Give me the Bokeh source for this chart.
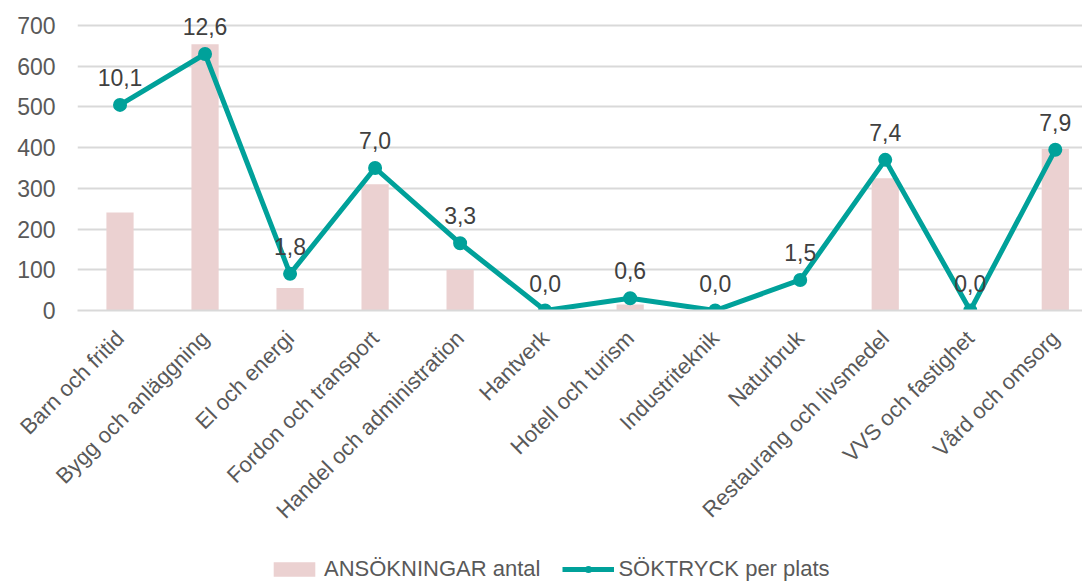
import math
from bokeh.plotting import figure
from bokeh.layouts import column
from bokeh.models import (ColumnDataSource, Range1d, FixedTicker, LabelSet,
                          Legend, LegendItem)
from bokeh.core.properties import value
from bokeh.embed import file_html
from bokeh.resources import INLINE

categories = ["Barn och fritid", "Bygg och anläggning", "El och energi", "Fordon och transport",
              "Handel och administration", "Hantverk", "Hotell och turism", "Industriteknik",
              "Naturbruk", "Restaurang och livsmedel", "VVS och fastighet", "Vård och omsorg"]
ansokningar = [241, 654, 55, 310, 100, 0, 15, 0, 0, 325, 0, 397]
soktryck = [10.1, 12.6, 1.8, 7.0, 3.3, 0.0, 0.6, 0.0, 1.5, 7.4, 0.0, 7.9]
y_ticks = [0, 100, 200, 300, 400, 500, 600, 700]
series_names = ["ANSÖKNINGAR antal", "SÖKTRYCK per plats"]

FONT = "Liberation Sans"
BAR_COLOR = "#EBD1D1"
LINE_COLOR = "#00A19A"
TXT = "#595959"

xs = list(range(len(categories)))
src = ColumnDataSource(dict(
    x=xs, bars=ansokningar, line=soktryck,
    lbl=[f"{v:.1f}".replace(".", ",") for v in soktryck],
))

MAIN_H = 542
LEG_H = 40
Y_TOP = 761.4          # headroom above 700 so the top data label is not clipped
p = figure(width=1082, height=MAIN_H, output_backend="svg", toolbar_location=None,
           x_range=Range1d(-0.5, 11.32), y_range=Range1d(0, Y_TOP),
           min_border_left=77, min_border_right=0, min_border_top=0,
           min_border_bottom=MAIN_H - 310)
p.outline_line_color = None
p.extra_y_ranges = {"sec": Range1d(0, Y_TOP / 50.0)}

vb = p.vbar(x="x", top="bars", width=0.32, source=src, fill_color=BAR_COLOR, line_color=None)
ln = p.line(x="x", y="line", source=src, y_range_name="sec", line_color=LINE_COLOR, line_width=5)
sc = p.scatter(x="x", y="line", source=src, y_range_name="sec", size=14,
               fill_color=LINE_COLOR, line_color=None)

labels = LabelSet(x="x", y="line", text="lbl", source=src, y_range_name="sec",
                  y_offset=19, text_align="center", text_baseline="bottom",
                  text_font=value(FONT), text_font_size=value("23px"), text_color="#404040")
p.add_layout(labels)

# axes
p.yaxis.ticker = FixedTicker(ticks=y_ticks)
p.yaxis.axis_line_color = None
p.yaxis.major_tick_line_color = None
p.yaxis.major_tick_out = 0
p.yaxis.major_tick_in = 0
p.yaxis.minor_tick_line_color = None
p.yaxis.major_label_standoff = 22
p.yaxis.major_label_text_font = FONT
p.yaxis.major_label_text_font_size = "23px"
p.yaxis.major_label_text_color = TXT

p.xaxis.ticker = FixedTicker(ticks=xs)
p.xaxis.major_label_overrides = {i: c for i, c in enumerate(categories)}
p.xaxis.major_label_orientation = math.pi / 4
p.xaxis.axis_line_color = "#D9D9D9"
p.xaxis.axis_line_width = 2
p.xaxis.major_tick_line_color = None
p.xaxis.major_tick_out = 0
p.xaxis.major_tick_in = 0
p.xaxis.minor_tick_line_color = None
p.xaxis.major_label_standoff = 24
p.xaxis.major_label_text_font = FONT
p.xaxis.major_label_text_font_size = "22px"
p.xaxis.major_label_text_color = TXT

p.xgrid.grid_line_color = None
p.ygrid.ticker = FixedTicker(ticks=y_ticks)
p.ygrid.grid_line_color = "#D9D9D9"
p.ygrid.grid_line_width = 2

# legend strip under the chart (its renderers hold a single point outside the visible range)
lg = figure(width=1082, height=LEG_H, output_backend="svg", toolbar_location=None,
            x_range=Range1d(0, 1), y_range=Range1d(0, 1), x_axis_type=None, y_axis_type=None,
            min_border=0)
lg.outline_line_color = None
lg.grid.visible = False
dummy = ColumnDataSource(dict(x=[10], y=[10]))
lvb = lg.vbar(x="x", top="y", width=0.1, source=dummy, fill_color=BAR_COLOR, line_color=None)
lln = lg.line(x="x", y="y", source=dummy, line_color=LINE_COLOR, line_width=5)
lsc = lg.scatter(x="x", y="y", source=dummy, size=14, fill_color=LINE_COLOR, line_color=None)
legend = Legend(items=[LegendItem(label=series_names[0], renderers=[lvb]),
                       LegendItem(label=series_names[1], renderers=[lln, lsc])],
                orientation="horizontal", location=(191, 0),
                glyph_width=52, glyph_height=18, spacing=22, padding=0, margin=0,
                label_text_font=FONT, label_text_font_size="22px", label_text_color=TXT,
                background_fill_alpha=0, border_line_color=None, label_standoff=4)
lg.add_layout(legend)

open("out.html", "w").write(file_html(column(p, lg, spacing=0), INLINE))
